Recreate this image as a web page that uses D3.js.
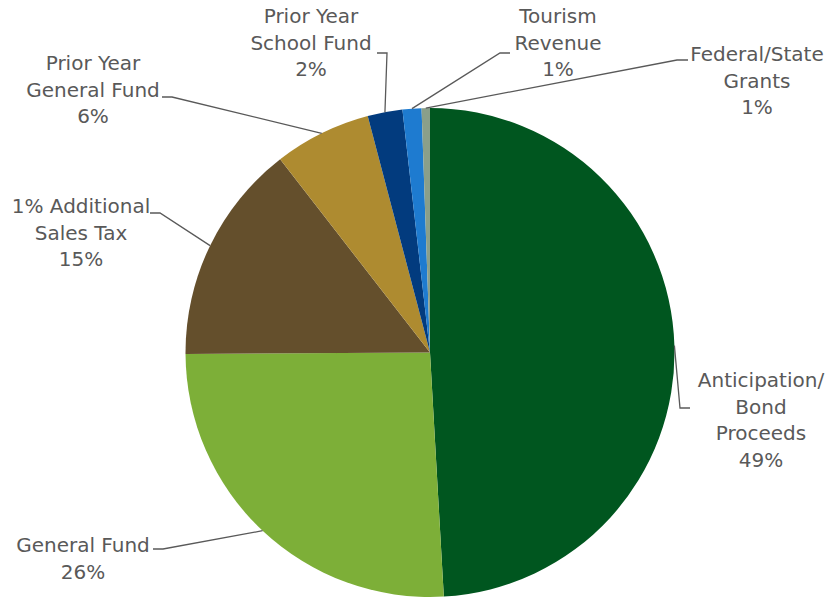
<!DOCTYPE html>
<html>
<head>
<meta charset="utf-8">
<script src="https://cdn.jsdelivr.net/npm/d3@7"></script>
<style>
  html, body { margin: 0; padding: 0; background: #ffffff; }
  svg { display: block; }
  .lbl { font-family: "DejaVu Sans", sans-serif; font-size: 20px; fill: #595959; }
</style>
</head>
<body>
<svg id="chart" width="827" height="600"></svg>
<script>
// Funding sources, in drawing order (clockwise from 12 o'clock)
const categories = [
  ["Anticipation/", "Bond", "Proceeds"],
  ["General Fund"],
  ["1% Additional", "Sales Tax"],
  ["Prior Year", "General Fund"],
  ["Prior Year", "School Fund"],
  ["Tourism", "Revenue"],
  ["Federal/State", "Grants"]
];
const values = [49.1, 25.8, 14.6, 6.4, 2.3, 1.25, 0.55];
const colors = ["#00561f", "#7daf38", "#644f2c", "#ae8b30", "#023b7e", "#1e7bd0", "#8a9f8a"];

// Label placement: text centre x, first baseline y, leader elbow and leader end
const labelLayout = [
  { x: 761, y: 387, elbow: [680, 408], end: [690, 408] },
  { x: 83,  y: 552, elbow: [163, 549], end: [153, 549] },
  { x: 81,  y: 213, elbow: [160, 213], end: [150, 213] },
  { x: 93,  y: 70,  elbow: [172, 97],  end: [162, 97] },
  { x: 311, y: 23,  elbow: [387, 53],  end: [377, 53] },
  { x: 558, y: 23,  elbow: [500, 53],  end: [510, 53] },
  { x: 757, y: 61,  elbow: [677, 60],  end: [688, 60] }
];

const svg = d3.select("#chart");
const cx = 430, cy = 352.5, r = 244.5;
const lineH = 26.5;

const total = d3.sum(values);
const pct = d3.format(".0%");

const pie = d3.pie().sort(null).value(d => d.value);
const arcs = pie(values.map((v, i) => ({ value: v, name: categories[i], color: colors[i], layout: labelLayout[i] })));
const arc = d3.arc().innerRadius(0).outerRadius(r);

const g = svg.append("g").attr("transform", `translate(${cx},${cy})`);
g.selectAll("path.slice")
  .data(arcs)
  .join("path")
  .attr("class", "slice")
  .attr("d", arc)
  .attr("fill", d => d.data.color);

// Leader lines from the slice edge at its mid angle
svg.selectAll("path.leader")
  .data(arcs)
  .join("path")
  .attr("class", "leader")
  .attr("fill", "none")
  .attr("stroke", "#595959")
  .attr("stroke-width", 1.3)
  .attr("d", d => {
    const a = (d.startAngle + d.endAngle) / 2;
    const p0 = [cx + r * Math.sin(a), cy - r * Math.cos(a)];
    return d3.line()([p0, d.data.layout.elbow, d.data.layout.end]);
  });

// Category labels with percentage
const labels = svg.selectAll("text.lbl")
  .data(arcs)
  .join("text")
  .attr("class", "lbl")
  .attr("text-anchor", "middle");

labels.each(function(d) {
  const t = d3.select(this);
  const lines = d.data.name.concat([pct(d.data.value / total)]);
  lines.forEach((s, i) => {
    t.append("tspan")
      .attr("x", d.data.layout.x)
      .attr("y", d.data.layout.y + i * lineH)
      .text(s);
  });
});
</script>
</body>
</html>
